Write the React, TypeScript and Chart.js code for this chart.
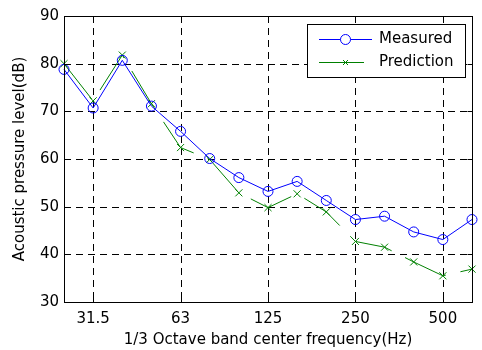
import React, { useEffect, useRef } from 'react';
import { Chart, registerables } from 'chart.js';

Chart.register(...registerables);

// 1/3 octave band centre frequencies (Hz), plotted at equal spacing
const bands = ['25', '31.5', '40', '50', '63', '80', '100', '125', '160', '200', '250', '315', '400', '500', '630'];
const xTickBands = ['31.5', '63', '125', '250', '500'];
const yTickValues = [30, 40, 50, 60, 70, 80, 90];

// Sound pressure level per band (dB)
const measured = [78.8, 70.7, 80.7, 71.1, 65.8, 60.1, 56.1, 53.2, 55.3, 51.3, 47.3, 48.0, 44.7, 43.1, 47.3];
const prediction = [80.0, 72.2, 81.8, 71.6, 62.4, 59.9, 52.9, 49.8, 52.7, 48.9, 42.7, 41.5, 38.4, 35.5, 36.9];

const FONT = 'DejaVu Sans';
const BLUE = '#0000ff';
const GREEN = '#008000';

function drawCross(ctx: CanvasRenderingContext2D, x: number, y: number, h: number) {
  ctx.beginPath();
  ctx.moveTo(x - h, y - h);
  ctx.lineTo(x + h, y + h);
  ctx.moveTo(x - h, y + h);
  ctx.lineTo(x + h, y - h);
  ctx.stroke();
}

// Boxed axes with dashed grid, inward ticks on all sides and a framed legend
const boxedAxes = {
  id: 'boxedAxes',
  beforeDatasetsDraw(chart: any) {
    const { ctx, chartArea: a, scales } = chart;
    ctx.save();
    ctx.strokeStyle = '#000';
    ctx.lineWidth = 1;
    ctx.setLineDash([7, 5]);
    ctx.beginPath();
    scales.x.ticks.forEach((t: any) => {
      const px = Math.round(scales.x.getPixelForValue(t.value)) + 0.5;
      ctx.moveTo(px, a.top);
      ctx.lineTo(px, a.bottom);
    });
    scales.y.ticks.forEach((t: any) => {
      if (t.value <= scales.y.min || t.value >= scales.y.max) return;
      const py = Math.round(scales.y.getPixelForValue(t.value)) + 0.5;
      ctx.moveTo(a.left, py);
      ctx.lineTo(a.right, py);
    });
    ctx.stroke();
    ctx.restore();
  },
  afterDatasetsDraw(chart: any) {
    const { ctx, chartArea: a, scales } = chart;
    const tl = 5;
    ctx.save();
    ctx.strokeStyle = '#000';
    ctx.lineWidth = 1;
    ctx.setLineDash([]);
    const L = Math.round(a.left) + 0.5;
    const R = Math.round(a.right) + 0.5;
    const T = Math.round(a.top) + 0.5;
    const B = Math.round(a.bottom) + 0.5;
    ctx.strokeRect(L, T, R - L, B - T);
    ctx.beginPath();
    scales.x.ticks.forEach((t: any) => {
      const px = Math.round(scales.x.getPixelForValue(t.value)) + 0.5;
      ctx.moveTo(px, B);
      ctx.lineTo(px, B - tl);
      ctx.moveTo(px, T);
      ctx.lineTo(px, T + tl);
    });
    scales.y.ticks.forEach((t: any) => {
      const py = Math.round(scales.y.getPixelForValue(t.value)) + 0.5;
      ctx.moveTo(L, py);
      ctx.lineTo(L + tl, py);
      ctx.moveTo(R, py);
      ctx.lineTo(R - tl, py);
    });
    ctx.stroke();

    // legend
    const bx = 307.5, by = 24.5, bw = 158, bh = 53;
    ctx.fillStyle = '#fff';
    ctx.fillRect(bx, by, bw, bh);
    ctx.strokeRect(bx, by, bw, bh);
    const rows = [39.5, 62.5];
    chart.data.datasets.forEach((ds: any, i: number) => {
      const y = rows[i];
      const x0 = 319;
      const x1 = 372;
      ctx.strokeStyle = ds.borderColor;
      ctx.lineWidth = 1;
      ctx.setLineDash(ds.borderDash || []);
      ctx.beginPath();
      ctx.moveTo(x0, y);
      ctx.lineTo(x1, y);
      ctx.stroke();
      ctx.setLineDash([]);
      const mx = 345.5;
      if (ds.pointStyle === 'circle') {
        ctx.beginPath();
        ctx.arc(mx, y, ds.pointRadius, 0, Math.PI * 2);
        ctx.fillStyle = '#fff';
        ctx.fill();
        ctx.stroke();
      } else {
        drawCross(ctx, mx, y, 2.5);
      }
      ctx.fillStyle = '#000';
      ctx.font = `15px "${FONT}"`;
      ctx.textBaseline = 'middle';
      ctx.textAlign = 'left';
      ctx.fillText(ds.label, 379, y);
    });
    ctx.restore();
  },
};

export default function App() {
  const ref = useRef<HTMLCanvasElement>(null);

  useEffect(() => {
    document.body.style.margin = '0';
    const canvas = ref.current;
    if (!canvas) return;
    const chart = new Chart(canvas, {
      type: 'line',
      data: {
        datasets: [
          {
            label: 'Measured',
            data: measured.map((v, i) => ({ x: i, y: v })),
            borderColor: BLUE,
            borderWidth: 1,
            pointStyle: 'circle',
            pointRadius: 5,
            pointBorderWidth: 1,
            pointBorderColor: BLUE,
            pointBackgroundColor: 'rgba(0,0,0,0)',
            fill: false,
            tension: 0,
            clip: false,
          } as any,
          {
            label: 'Prediction',
            data: prediction.map((v, i) => ({ x: i, y: v })),
            borderColor: GREEN,
            borderWidth: 1,
            borderDash: [45, 15],
            pointStyle: 'crossRot',
            pointRadius: 5,
            pointBorderWidth: 1,
            pointBorderColor: GREEN,
            pointBackgroundColor: GREEN,
            fill: false,
            tension: 0,
            clip: false,
          } as any,
        ],
      },
      options: {
        responsive: false,
        animation: false,
        events: [],
        layout: { padding: { top: 16, right: 10, left: 0, bottom: 0 } },
        plugins: {
          legend: { display: false },
          tooltip: { enabled: false },
        },
        scales: {
          x: {
            type: 'linear',
            min: 0,
            max: bands.length - 1,
            grid: { display: false, drawTicks: false },
            border: { display: false },
            afterBuildTicks: (scale: any) => {
              scale.ticks = xTickBands.map((b) => ({ value: bands.indexOf(b) }));
            },
            afterFit: (scale: any) => {
              scale.height = 48;
            },
            ticks: {
              autoSkip: false,
              maxRotation: 0,
              padding: 8,
              color: '#000',
              font: { family: FONT, size: 15 },
              callback: (v: any) => bands[v as number],
            },
            title: {
              display: true,
              text: '1/3 Octave band center frequency(Hz)',
              color: '#000',
              font: { family: FONT, size: 15 },
              padding: { top: 0, bottom: 1 },
            },
          },
          y: {
            type: 'linear',
            min: yTickValues[0],
            max: yTickValues[yTickValues.length - 1],
            grid: { display: false, drawTicks: false },
            border: { display: false },
            afterBuildTicks: (scale: any) => {
              scale.ticks = yTickValues.map((v) => ({ value: v }));
            },
            afterFit: (scale: any) => {
              scale.width = 64;
            },
            ticks: {
              padding: 5,
              color: '#000',
              font: { family: FONT, size: 15 },
            },
            title: {
              display: true,
              text: 'Acoustic pressure level(dB)',
              color: '#000',
              font: { family: FONT, size: 15 },
              padding: { top: 11, bottom: 0 },
            },
          },
        },
      },
      plugins: [boxedAxes],
    });
    return () => chart.destroy();
  }, []);

  return (
    <div style={{ width: 482, height: 350 }}>
      <canvas ref={ref} width={482} height={350} style={{ display: 'block' }} />
    </div>
  );
}
